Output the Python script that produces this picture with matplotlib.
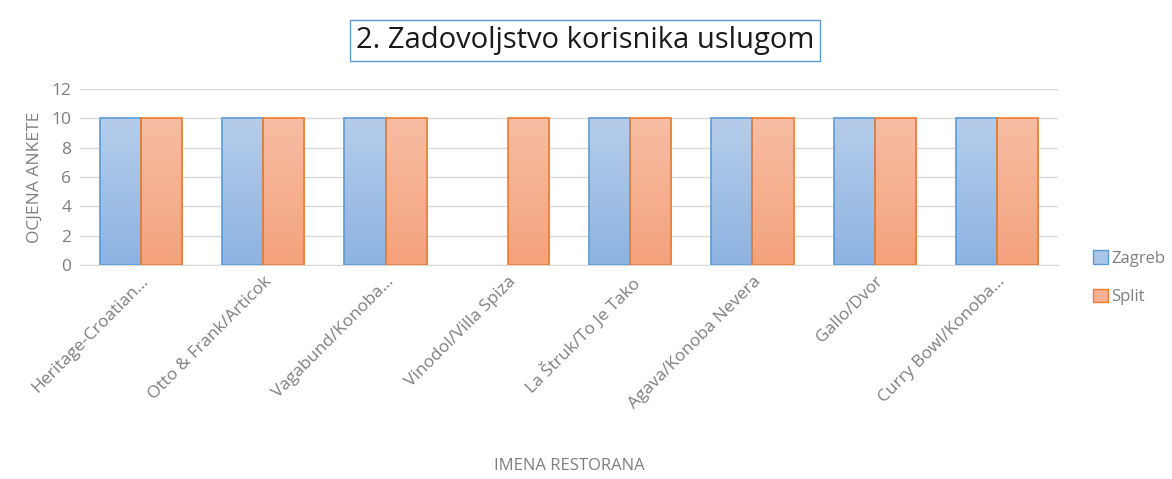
import numpy as np
import matplotlib.pyplot as plt
from matplotlib.patches import Patch

restorani = ['Heritage-Croatian...', 'Otto & Frank/Articok', 'Vagabund/Konoba...',
             'Vinodol/Villa Spiza', 'La Štruk/To Je Tako', 'Agava/Konoba Nevera',
             'Gallo/Dvor', 'Curry Bowl/Konoba...']
zagreb = [10, 10, 10, 0, 10, 10, 10, 10]
split = [10, 10, 10, 10, 10, 10, 10, 10]

plt.rcParams['font.family'] = ['Open Sans', 'DejaVu Sans']
GREY = '#7f7f7f'

fig = plt.figure(figsize=(11.72, 4.79), dpi=100)
ax = fig.add_axes([0.068, 0.447, 0.835, 0.367])

x = np.arange(len(restorani))
w = 0.336


def gradient_bars(bars, top, bottom):
    grad = np.linspace(0, 1, 100).reshape(-1, 1)
    cmap = plt.matplotlib.colors.LinearSegmentedColormap.from_list('g', [bottom, top])
    for b in bars:
        h = b.get_height()
        if h <= 0:
            b.set_linewidth(0)  # prazna vrijednost, bez ruba
            continue
        x0 = b.get_x()
        im = ax.imshow(grad, extent=(x0, x0 + b.get_width(), 0, h), origin='lower',
                       aspect='auto', cmap=cmap, zorder=2)
        im.set_clip_path(b)


b1 = ax.bar(x - w / 2, zagreb, w, facecolor='none', edgecolor='#5b9bd5', linewidth=1.2, zorder=3)
b2 = ax.bar(x + w / 2, split, w, facecolor='none', edgecolor='#ed7d31', linewidth=1.2, zorder=3)
gradient_bars(b1, '#b5cdea', '#8db3e2')
gradient_bars(b2, '#f7bda3', '#f4a27c')

ax.set_xlim(-0.5, len(restorani) - 0.5)
ax.set_ylim(0, 12)
ax.set_yticks(range(0, 13, 2))
ax.grid(axis='y', color='#d9d9d9', linewidth=1)
ax.set_axisbelow(True)
for s in ['top', 'right', 'left']:
    ax.spines[s].set_visible(False)
ax.spines['bottom'].set_color('#d9d9d9')
ax.tick_params(length=0, colors=GREY, labelsize=12.5, pad=6)

ax.set_xticks(x)
ax.set_xticklabels(restorani, rotation=45, ha='right', rotation_mode='anchor', fontsize=12.5)

ax.set_ylabel('OCJENA ANKETE', color=GREY, fontsize=12.5, labelpad=6)
ax.set_xlabel('IMENA RESTORANA', color=GREY, fontsize=12, labelpad=33)

fig.text(0.4995, 0.916, '2. Zadovoljstvo korisnika uslugom', ha='center', va='center',
         fontsize=21, color='#1a1a1a',
         bbox=dict(boxstyle='square,pad=0.2', facecolor='white', edgecolor='#5b9bd5', linewidth=1))

handles = [Patch(facecolor='#a9c5e8', edgecolor='#5b9bd5', label='Zagreb'),
           Patch(facecolor='#f6b093', edgecolor='#ed7d31', label='Split')]
fig.legend(handles=handles, loc='center left', bbox_to_anchor=(0.92, 0.42), frameon=False,
           handlelength=0.9, handleheight=0.9, handletextpad=0.2, labelspacing=1.3,
           fontsize=12, labelcolor=GREY)

fig.savefig('out.png', dpi=100)
